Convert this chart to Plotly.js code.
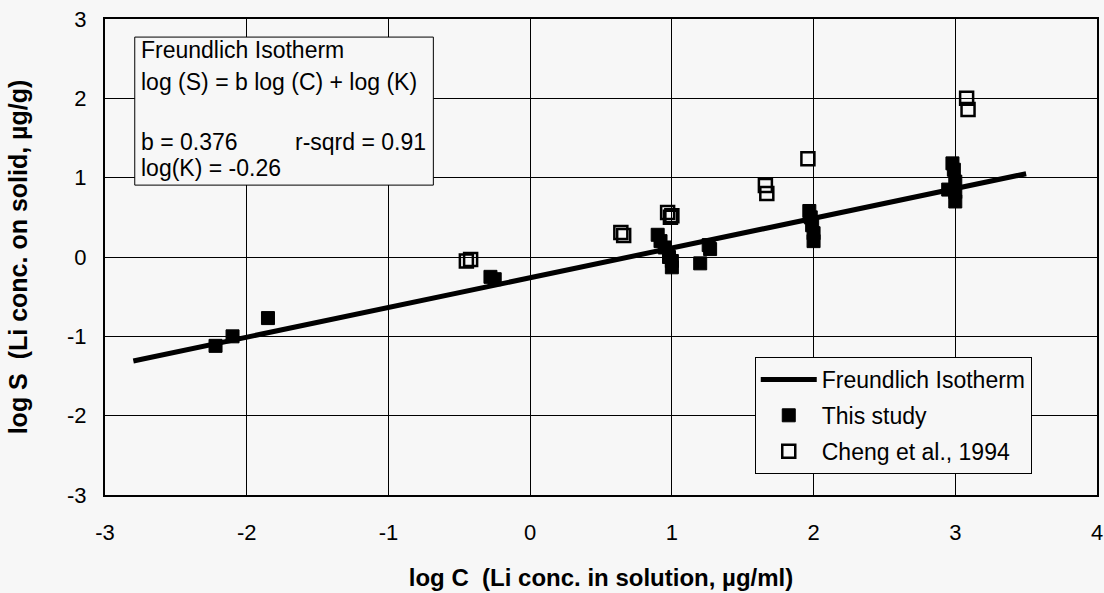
<!DOCTYPE html>
<html>
<head>
<meta charset="utf-8">
<script src="https://cdn.plot.ly/plotly-3.0.1.min.js"></script>
<style>html,body{margin:0;padding:0;background:#f7f7f7;}#chart{width:1104px;height:593px;}</style>
</head>
<body>
<div id="chart"></div>
<script>
// Freundlich isotherm fit line (end points)
const fitX = [-2.8, 3.5];
const fitY = [-1.31, 1.05];

// This study (filled squares)
const studyX = [-2.22, -2.1, -1.85, -0.28, -0.25, 0.9, 0.92, 0.95, 0.98, 1.0, 1.0, 1.2, 1.26, 1.27, 1.97, 1.98, 1.99, 2.0, 2.0, 2.95, 2.98, 2.99, 3.0, 3.0, 3.0];
const studyY = [-1.12, -1.0, -0.77, -0.25, -0.28, 0.28, 0.2, 0.12, 0.0, -0.05, -0.13, -0.08, 0.15, 0.1, 0.58, 0.5, 0.4, 0.3, 0.2, 0.85, 1.18, 1.1, 0.95, 0.82, 0.7];

// Cheng et al., 1994 (open squares)
const chengX = [-0.45, -0.42, 0.64, 0.66, 0.97, 0.99, 1.0, 1.66, 1.67, 1.96, 3.08, 3.09];
const chengY = [-0.05, -0.03, 0.31, 0.27, 0.56, 0.5, 0.52, 0.9, 0.8, 1.24, 2.0, 1.86];

const tickVals = [-3, -2, -1, 0, 1, 2, 3, 4];
const tickText = ['-3', '-2', '-1', '0', '1', '2', '3', '4'];
const yTickVals = [-3, -2, -1, 0, 1, 2, 3];
const yTickText = ['-3', '-2', '-1', '0', '1', '2', '3'];

const names = ['Freundlich Isotherm', 'This study', 'Cheng et al., 1994'];
const boxLines = ['Freundlich Isotherm', 'log (S) = b log (C) + log (K)', 'b = 0.376', 'r-sqrd = 0.91', 'log(K) = -0.26'];

const FONT = 'Arial, "Liberation Sans", sans-serif';
const bg = '#f7f7f7';

const traces = [
  {x: fitX, y: fitY, mode: 'lines', name: names[0], legendgroup: 'g1', line: {color: '#000', width: 5}},
  {x: studyX, y: studyY, mode: 'markers', name: names[1], legendgroup: 'g2',
   marker: {symbol: 'square', size: 13, color: '#000', line: {color: '#000', width: 1}}},
  {x: chengX, y: chengY, mode: 'markers', name: names[2], legendgroup: 'g3',
   marker: {symbol: 'square-open', size: 13, color: '#000', line: {color: '#000', width: 2.5}}}
];

const annFont = {family: FONT, size: 23, color: '#000'};
const layout = {
  width: 1104, height: 593,
  paper_bgcolor: bg, plot_bgcolor: bg,
  margin: {l: 105, r: 7, t: 19, b: 98},
  font: {family: FONT, color: '#000'},
  showlegend: true,
  legend: {
    x: 0.655, y: 0.29, xanchor: 'left', yanchor: 'top',
    bgcolor: bg, bordercolor: '#000', borderwidth: 1,
    font: {family: FONT, size: 23, color: '#000'},
    itemwidth: 56, tracegroupgap: 3
  },
  xaxis: {
    range: [-3, 4], tickvals: tickVals, ticktext: tickText,
    showgrid: true, gridcolor: '#000', gridwidth: 1,
    zeroline: false, showline: true, linecolor: '#000', linewidth: 2, mirror: true,
    ticks: '', ticklabelstandoff: 17,
    tickfont: {family: FONT, size: 22, color: '#000'},
    title: {text: 'log C  (Li conc. in solution, µg/ml)', font: {family: FONT, size: 24, color: '#000', weight: 'bold'}, standoff: 25}
  },
  yaxis: {
    range: [-3, 3], tickvals: yTickVals, ticktext: yTickText,
    showgrid: true, gridcolor: '#000', gridwidth: 1,
    zeroline: false, showline: true, linecolor: '#000', linewidth: 2, mirror: true,
    ticks: '', ticklabelstandoff: 12,
    tickfont: {family: FONT, size: 22, color: '#000'},
    title: {text: 'log S  (Li conc. on solid, µg/g)', font: {family: FONT, size: 25, color: '#000', weight: 'bold'}, standoff: 32}
  },
  shapes: [
    {type: 'rect', xref: 'paper', yref: 'paper', x0: 0.030, x1: 0.331, y0: 0.651, y1: 0.962,
     line: {color: '#000', width: 1}, fillcolor: bg, layer: 'above'}
  ],
  annotations: [
    {xref: 'paper', yref: 'paper', x: 0.034, y: 0.935, xanchor: 'left', yanchor: 'middle', showarrow: false, text: boxLines[0], font: annFont},
    {xref: 'paper', yref: 'paper', x: 0.034, y: 0.868, xanchor: 'left', yanchor: 'middle', showarrow: false, text: boxLines[1], font: annFont},
    {xref: 'paper', yref: 'paper', x: 0.034, y: 0.742, xanchor: 'left', yanchor: 'middle', showarrow: false, text: boxLines[2], font: annFont},
    {xref: 'paper', yref: 'paper', x: 0.19, y: 0.742, xanchor: 'left', yanchor: 'middle', showarrow: false, text: boxLines[3], font: annFont},
    {xref: 'paper', yref: 'paper', x: 0.034, y: 0.687, xanchor: 'left', yanchor: 'middle', showarrow: false, text: boxLines[4], font: annFont}
  ]
};

Plotly.newPlot('chart', traces, layout, {displayModeBar: false, staticPlot: true});
</script>
</body>
</html>
